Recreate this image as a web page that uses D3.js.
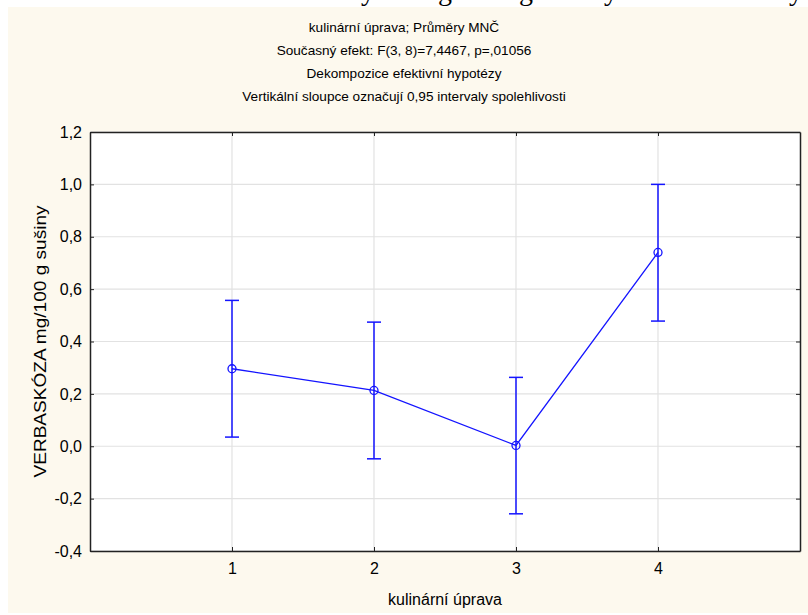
<!DOCTYPE html>
<html>
<head>
<meta charset="utf-8">
<script src="https://cdn.jsdelivr.net/npm/d3@7"></script>
<style>
  body { margin: 0; background: #ffffff; }
  svg { display: block; font-family: "Liberation Sans", Arial, sans-serif; }
</style>
</head>
<body>
<svg id="chart" width="808" height="615"></svg>
<script>
// data
var groups = [1, 2, 3, 4];
var means = [0.296, 0.213, 0.003, 0.740];
var lower = [0.035, -0.048, -0.258, 0.478];
var upper = [0.557, 0.474, 0.263, 1.000];
var yTicks = [-0.4, -0.2, 0.0, 0.2, 0.4, 0.6, 0.8, 1.0, 1.2];
var titleLines = [
  "kulinární úprava; Průměry MNČ",
  "Současný efekt: F(3, 8)=7,4467, p=,01056",
  "Dekompozice efektivní hypotézy",
  "Vertikální sloupce označují 0,95 intervaly spolehlivosti"
];

var margin = {top: 132, right: 8, bottom: 64, left: 90},
    width = 808 - margin.left - margin.right,
    height = 615 - margin.top - margin.bottom;

var svg = d3.select("#chart");

// beige panel behind the chart
svg.append("rect")
    .attr("x", 8).attr("y", 7)
    .attr("width", 800).attr("height", 606)
    .attr("fill", "#fdf9ee");

// cut off letters of the document line above
svg.append("clipPath").attr("id", "topclip")
  .append("rect").attr("x", 0).attr("y", 0).attr("width", 808).attr("height", 7);
var topGlyphs = [[368, "y"], [445, "g"], [526, "g"], [611, "y"], [796, "y"]];
svg.selectAll(".glyph")
    .data(topGlyphs)
    .enter().append("text")
    .attr("class", "glyph")
    .attr("x", function(d) { return d[0]; })
    .attr("y", 0)
    .attr("text-anchor", "middle")
    .style("font-family", "'Liberation Serif', 'DejaVu Serif', serif")
    .style("font-size", "28px")
    .attr("clip-path", "url(#topclip)")
    .text(function(d) { return d[1]; });

// title
svg.selectAll(".title")
    .data(titleLines)
    .enter().append("text")
    .attr("class", "title")
    .attr("x", 404)
    .attr("y", function(d, i) { return 32 + i * 23; })
    .attr("text-anchor", "middle")
    .style("font-size", "13.6px")
    .attr("fill", "#000")
    .text(function(d) { return d; });

var x = d3.scaleLinear().domain([0, 5]).range([0, width]);
var y = d3.scaleLinear().domain([-0.4, 1.2]).range([height, 0]);

var g = svg.append("g")
    .attr("transform", "translate(" + margin.left + "," + margin.top + ")");

g.append("rect")
    .attr("width", width).attr("height", height)
    .attr("fill", "#ffffff");

// grid
g.selectAll(".hgrid")
    .data(yTicks)
    .enter().append("line")
    .attr("x1", 0).attr("x2", width)
    .attr("y1", function(d) { return y(d); })
    .attr("y2", function(d) { return y(d); })
    .attr("stroke", "#e2e2e2").attr("stroke-width", 1.2);

g.selectAll(".vgrid")
    .data(groups)
    .enter().append("line")
    .attr("y1", 0).attr("y2", height)
    .attr("x1", function(d) { return x(d); })
    .attr("x2", function(d) { return x(d); })
    .attr("stroke", "#e2e2e2").attr("stroke-width", 1.2);

// axes, ticks pointing inwards
var fmt = function(d) { return d3.format(".1f")(d).replace(".", ",").replace("−", "-"); };

var yAxis = d3.axisLeft(y).tickValues(yTicks).tickSizeInner(-4).tickSizeOuter(0).tickPadding(8).tickFormat(fmt);
var yAxisR = d3.axisRight(y).tickValues(yTicks).tickSizeInner(-4).tickSizeOuter(0).tickFormat("");
var xAxis = d3.axisBottom(x).tickValues(groups).tickSizeInner(-4).tickSizeOuter(0).tickPadding(12).tickFormat(d3.format("d"));
var xAxisT = d3.axisTop(x).tickValues(groups).tickSizeInner(-4).tickSizeOuter(0).tickFormat("");

g.append("g").attr("class", "axis").call(yAxis);
g.append("g").attr("class", "axis").attr("transform", "translate(" + width + ",0)").call(yAxisR);
g.append("g").attr("class", "axis").attr("transform", "translate(0," + height + ")").call(xAxis);
g.append("g").attr("class", "axis").call(xAxisT);

g.selectAll(".axis path").attr("stroke", "#222").attr("stroke-width", 1.5);
g.selectAll(".axis line").attr("stroke", "#222");
g.selectAll(".axis text")
    .style("font-size", "16px")
    .style("font-family", "'Liberation Sans', Arial, sans-serif")
    .attr("fill", "#000");

// axis labels
svg.append("text")
    .attr("x", margin.left + width / 2)
    .attr("y", 605)
    .attr("text-anchor", "middle")
    .style("font-size", "16px")
    .text("kulinární úprava");

svg.append("text")
    .attr("transform", "translate(46," + (margin.top + height / 2) + ") rotate(-90)")
    .attr("text-anchor", "middle")
    .style("font-size", "16px")
    .attr("textLength", 272)
    .attr("lengthAdjust", "spacingAndGlyphs")
    .text("VERBASKÓZA mg/100 g sušiny");

var blue = "#1414ff";
var pts = groups.map(function(d, i) { return {k: d, m: means[i], lo: lower[i], hi: upper[i]}; });

// error bars
var eb = g.selectAll(".eb").data(pts).enter().append("g").attr("class", "eb");
eb.append("line")
    .attr("x1", function(d) { return x(d.k); }).attr("x2", function(d) { return x(d.k); })
    .attr("y1", function(d) { return y(d.lo); }).attr("y2", function(d) { return y(d.hi); })
    .attr("stroke", blue).attr("stroke-width", 1.5);
eb.append("line")
    .attr("x1", function(d) { return x(d.k) - 7; }).attr("x2", function(d) { return x(d.k) + 7; })
    .attr("y1", function(d) { return y(d.hi); }).attr("y2", function(d) { return y(d.hi); })
    .attr("stroke", blue).attr("stroke-width", 1.5);
eb.append("line")
    .attr("x1", function(d) { return x(d.k) - 7; }).attr("x2", function(d) { return x(d.k) + 7; })
    .attr("y1", function(d) { return y(d.lo); }).attr("y2", function(d) { return y(d.lo); })
    .attr("stroke", blue).attr("stroke-width", 1.5);

// mean line
var line = d3.line()
    .x(function(d) { return x(d.k); })
    .y(function(d) { return y(d.m); });

g.append("path")
    .datum(pts)
    .attr("d", line)
    .attr("fill", "none")
    .attr("stroke", blue)
    .attr("stroke-width", 1.3);

g.selectAll(".pt")
    .data(pts)
    .enter().append("circle")
    .attr("class", "pt")
    .attr("cx", function(d) { return x(d.k); })
    .attr("cy", function(d) { return y(d.m); })
    .attr("r", 4)
    .attr("fill", "none")
    .attr("stroke", blue)
    .attr("stroke-width", 1.3);
</script>
</body>
</html>
